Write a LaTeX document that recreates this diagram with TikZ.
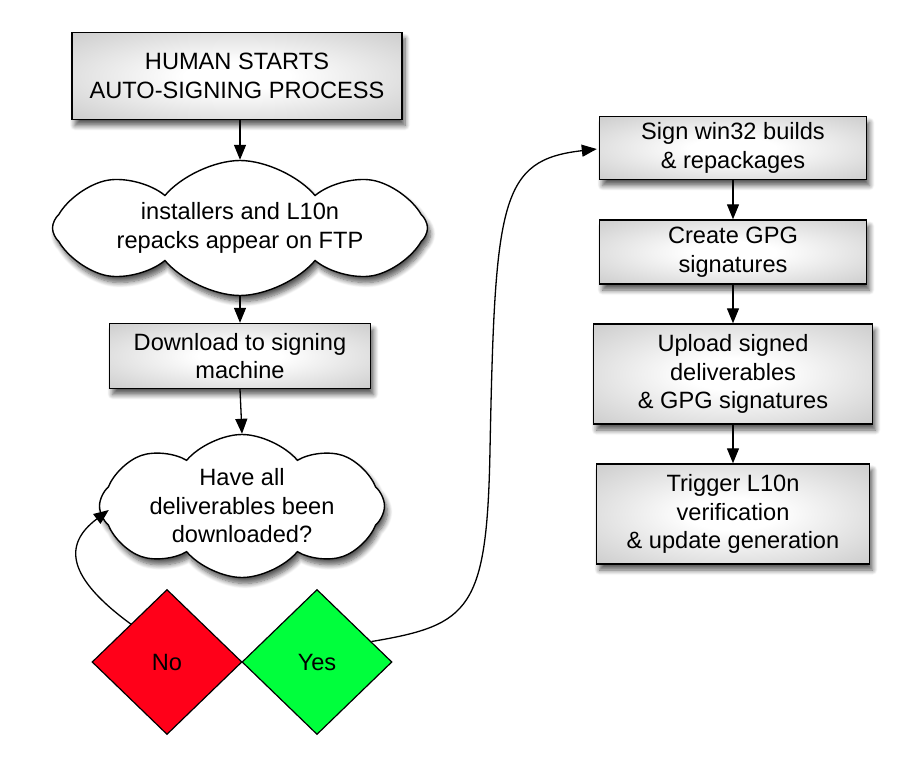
\documentclass[tikz,border=0pt]{standalone}
\usepackage{fontspec}
\setmainfont{Liberation Sans}
\usetikzlibrary{shapes.symbols,shapes.geometric,arrows.meta,shadows.blur,calc}
\pgfdeclareradialshading{boxshade}{\pgfpoint{0bp}{0bp}}{color(0bp)=(white); color(8bp)=(white); color(50bp)=(black!30); color(72bp)=(black!38)}
\definecolor{noRed}{RGB}{255,0,25}
\definecolor{yesGreen}{RGB}{0,255,60}
\begin{document}
\begin{tikzpicture}[x=1pt,y=-1pt,
  every node/.style={font=\fontsize{23.6}{28.5}\selectfont, align=center, inner sep=0pt},
  shad/.style={blur shadow={shadow xshift=3pt, shadow yshift=-6pt, shadow blur steps=8, shadow opacity=65, shadow blur radius=5pt}},
  box/.style={rectangle, draw=black, line width=1.4pt, shading=boxshade, shad},
  cloudbox/.style={cloud, cloud puffs=8, cloud puff arc=100, cloud ignores aspect, inner sep=-20pt, draw=black, line width=1.4pt, fill=white, shad},
  choice/.style={diamond, draw=black, line width=1.2pt, aspect=1, minimum width=150pt, minimum height=145pt},
  arr/.style={draw=black, line width=1.3pt, -{Triangle[length=15pt,width=12pt]}}
]
\useasboundingbox (0,0) rectangle (914,784);

\node[box, minimum width=330pt, minimum height=87pt] (human) at (237,76) {HUMAN STARTS\\AUTO-SIGNING PROCESS};
\node[cloudbox, minimum width=375pt, minimum height=135pt, shape border rotate=8] (cloud1) at (240,228) {installers and L10n\\repacks appear on FTP};
\node[box, minimum width=261pt, minimum height=65pt] (download) at (240,356) {Download to signing\\machine};
\node[cloudbox, minimum width=285pt, minimum height=143pt, shape border rotate=8] (cloud2) at (242,506) {Have all\\deliverables been\\downloaded?};
\node[choice, fill=noRed] (no) at (167,662) {No};
\node[choice, fill=yesGreen] (yes) at (317,662) {Yes};

\node[box, minimum width=267pt, minimum height=63pt] (sign) at (733,148) {Sign win32 builds\\\& repackages};
\node[box, minimum width=267pt, minimum height=64pt] (gpg) at (733,252) {Create GPG\\signatures};
\node[box, minimum width=279pt, minimum height=100pt] (upload) at (733,374) {Upload signed\\deliverables\\\& GPG signatures};
\node[box, minimum width=273pt, minimum height=100pt] (trigger) at (733,514) {Trigger L10n\\verification\\\& update generation};

\draw[arr] (cloud1.north |- human.south) -- (cloud1.north);
\draw[arr] (cloud1.south) -- (download.north -| cloud1.south);
\draw[arr] (download.south) -- (cloud2.north);
\draw[arr] (sign.south) -- (gpg.north);
\draw[arr] (gpg.south) -- (upload.north);
\draw[arr] (upload.south) -- (trigger.north);

\coordinate (noStart) at ($(no.west)!0.52!(no.north)$);
\coordinate (c2tip) at ($(cloud2.west)+(10,4)$);
\draw[arr] (noStart) .. controls (68,578) and (62,545) .. (c2tip);

\coordinate (yesStart) at ($(yes.north)!0.72!(yes.east)$);
\coordinate (signTip) at ($(sign.west)+(-2,1)$);
\draw[arr] (yesStart) .. controls (470,625) and (487,610) .. (490,450)
  .. controls (495,200) and (500,160) .. (signTip);
\end{tikzpicture}
\end{document}
